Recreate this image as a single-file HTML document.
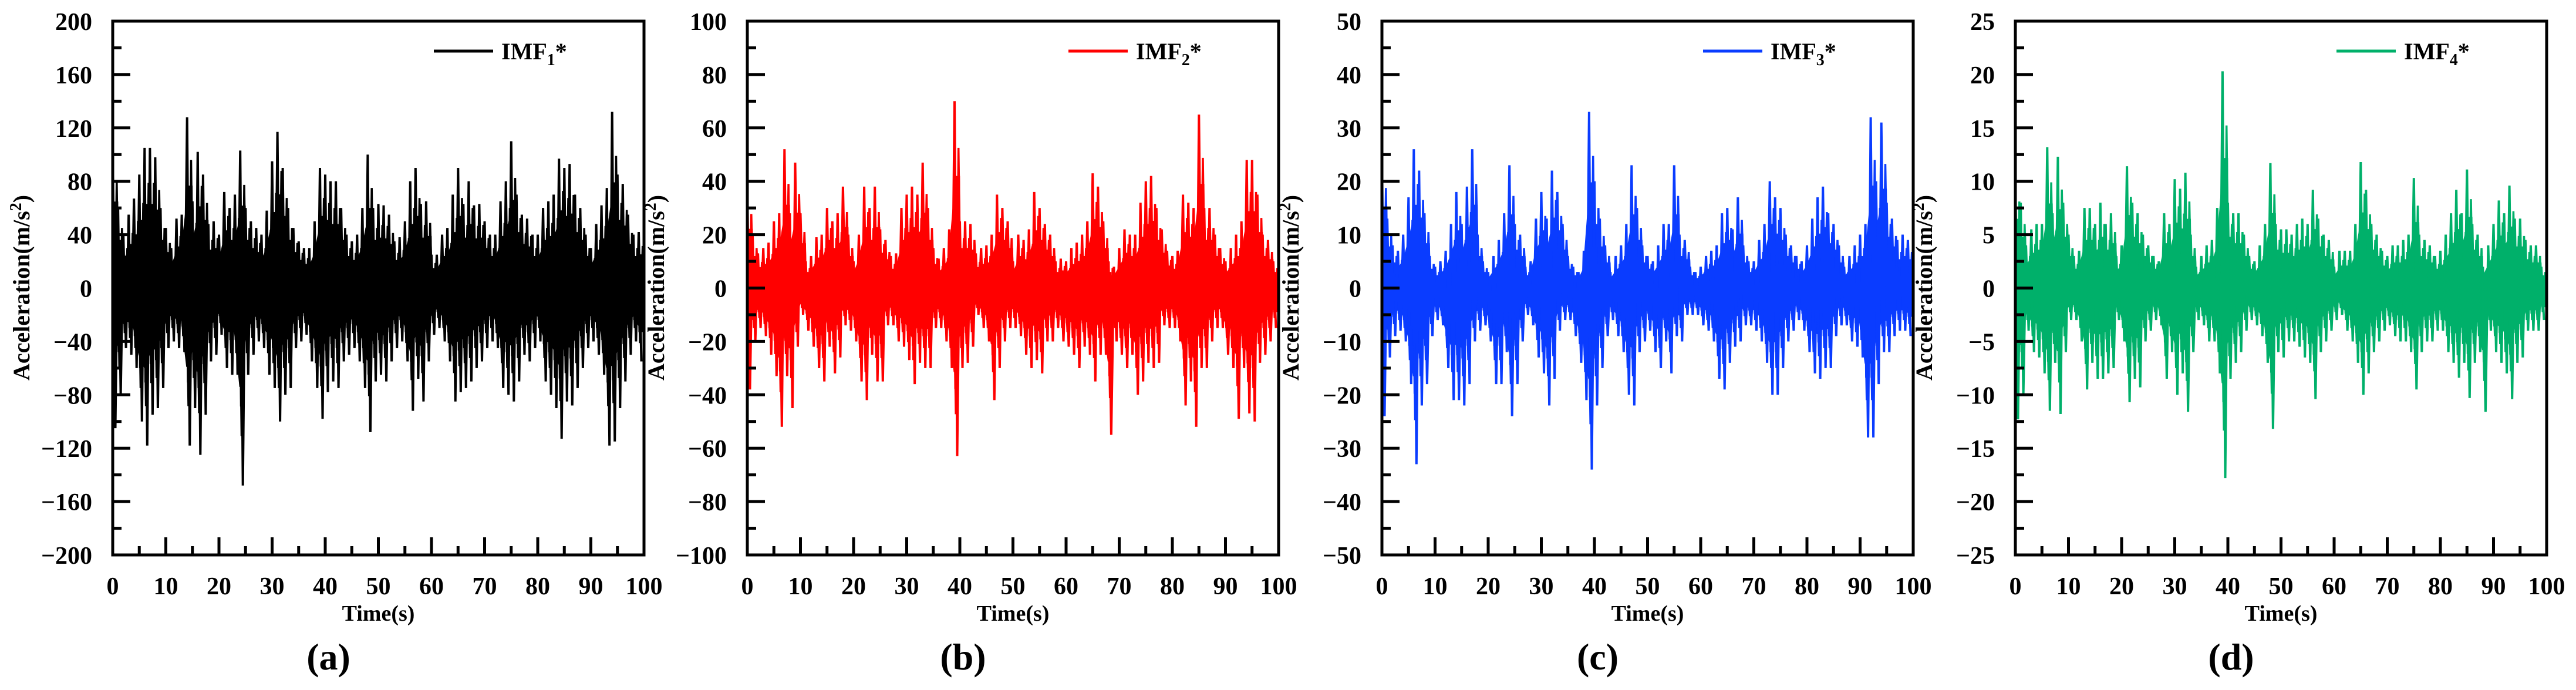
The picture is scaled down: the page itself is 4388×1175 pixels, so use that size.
<!DOCTYPE html>
<html><head><meta charset="utf-8">
<style>
html,body{margin:0;padding:0;background:#fff;}
svg{display:block;}
text{font-family:"Liberation Serif",serif;font-weight:bold;fill:#000;}
</style></head>
<body>
<svg id="fig" width="4388" height="1175" viewBox="0 0 4388 1175" xmlns="http://www.w3.org/2000/svg"></svg>
<script>
// ---- data: per-second envelope maxima/minima (t = 0..99 s) ----
const timeSeconds = Array.from({length:100}, (_, i) => i);
const imf1Max = [108,60,40,55,67,85,105,105,98,60,45,30,52,55,128,65,102,85,48,50,40,72,60,70,103,60,50,45,40,58,95,117,90,60,45,35,30,30,50,90,85,80,80,60,40,35,40,60,100,60,63,62,55,35,38,50,80,90,63,65,25,25,40,45,70,90,63,80,62,63,50,40,40,65,80,110,70,55,52,40,40,60,65,70,97,90,93,70,60,40,30,48,62,75,132,85,78,55,40,42];
const imf1Min = [-105,-80,-45,-50,-60,-100,-118,-95,-90,-75,-45,-40,-45,-48,-118,-90,-125,-95,-55,-50,-35,-60,-65,-65,-148,-65,-50,-40,-45,-65,-75,-100,-80,-75,-45,-40,-35,-55,-75,-98,-78,-70,-75,-55,-50,-45,-55,-75,-108,-70,-65,-70,-55,-45,-40,-55,-92,-68,-85,-55,-35,-30,-40,-55,-85,-78,-75,-70,-60,-55,-45,-40,-45,-75,-80,-85,-70,-50,-55,-45,-40,-70,-80,-90,-113,-85,-88,-75,-60,-45,-40,-50,-65,-118,-115,-90,-70,-50,-40,-55];
const imf2Max = [37,20,13,15,17,25,28,52,28,47,28,10,12,19,20,30,25,28,38,20,10,20,38,30,38,22,18,12,13,30,35,38,35,47,30,15,11,15,22,70,25,25,24,13,15,16,20,35,30,25,10,20,18,22,36,30,24,20,10,11,10,15,17,20,25,43,38,25,10,8,15,22,20,20,32,40,42,30,22,14,12,14,35,32,30,65,30,30,20,15,10,15,20,25,48,48,35,20,18,10];
const imf2Min = [-38,-20,-15,-18,-25,-33,-52,-33,-45,-22,-10,-16,-22,-30,-35,-22,-32,-26,-14,-16,-20,-35,-42,-25,-35,-35,-14,-14,-20,-22,-27,-36,-28,-30,-30,-15,-15,-20,-30,-63,-30,-28,-22,-10,-15,-20,-42,-30,-20,-15,-15,-18,-25,-30,-27,-32,-20,-20,-15,-20,-22,-25,-30,-22,-25,-35,-25,-25,-55,-20,-25,-30,-25,-40,-35,-28,-30,-28,-14,-15,-15,-20,-44,-35,-52,-30,-30,-20,-15,-15,-25,-30,-49,-30,-47,-50,-28,-25,-20,-15];
const imf3Max = [25,13,8,7,10,17,26,22,14,6,4,5,7,12,18,12,19,26,10,5,3,6,9,14,23,12,10,4,5,13,18,13,22,18,12,6,4,3,7,33,20,13,8,3,6,8,12,23,15,8,6,5,8,12,12,23,10,9,4,3,4,6,7,8,14,15,11,17,8,5,5,9,12,20,17,15,10,8,6,5,8,13,17,19,14,12,8,4,6,8,10,12,32,20,31,16,13,9,10,9];
const imf3Min = [-24,-13,-9,-8,-10,-18,-33,-22,-18,-9,-6,-7,-15,-21,-21,-22,-18,-10,-8,-7,-10,-18,-18,-12,-24,-18,-10,-5,-7,-13,-16,-22,-17,-8,-6,-6,-9,-14,-21,-34,-22,-15,-9,-6,-9,-12,-20,-22,-12,-10,-8,-12,-15,-10,-16,-9,-10,-5,-5,-5,-7,-8,-10,-17,-19,-14,-11,-10,-7,-7,-8,-10,-14,-20,-20,-15,-10,-8,-6,-8,-12,-16,-17,-15,-15,-9,-7,-7,-10,-11,-13,-28,-28,-18,-12,-12,-9,-8,-8,-9];
const imf4Max = [10.8,8,4,5.5,6,6,13.2,7,12.3,8,5,3,3.5,7.5,7.5,6,8,6,7,3,4,11.4,8,7,5,4,3,2.5,7,6,10.2,9.3,10.8,5,2,3,4,4.5,7.5,20.3,8,7,7,5,3,2.5,4,6,11.7,6,5.5,5.5,5,6,6.5,6,9.2,6.5,5,4.5,2,3.5,3.5,3.5,6,11.8,9.2,6,5,3.5,3,4,4,4.5,5,10.3,5,4.5,4,3,3.5,5,7,9.2,7,11.1,6,5,2,4,6,8.2,7,9.6,6.5,6.5,4.5,4,4,2];
const imf4Min = [-12.3,-10,-4,-6,-6.5,-8,-11.5,-7,-11.8,-6,-3,-3,-5,-9.5,-7,-8.5,-8.5,-8,-7.5,-3,-5,-10.7,-8.5,-9.3,-5,-4,-3,-3.5,-8.5,-6,-10,-8,-11.6,-6,-3,-3.5,-5,-5,-8,-17.8,-8.5,-7,-6,-4,-3,-3.5,-4.5,-7,-13.2,-6,-6.5,-5,-5,-5.5,-6.5,-7,-10.4,-6,-5,-4,-3,-2.5,-4,-5,-7,-10,-8,-6,-5,-4,-3.5,-4.5,-5,-5,-6,-9.5,-6,-5,-5,-4,-4,-6,-7,-8.4,-7,-10.3,-7,-6,-11.6,-4,-6,-7,-8,-10.4,-7,-6.5,-4,-4,-4,-3];
const xTicks = [0,10,20,30,40,50,60,70,80,90,100];
const yRanges = [200,100,50,25];
const yMajorSteps = [40,20,10,5];
const seriesNames = ["1","2","3","4"];
const panelLetters = ["(a)","(b)","(c)","(d)"];
const colors = ["#000000","#ff0000","#0a3cff","#00b06a"];

const NS = "http://www.w3.org/2000/svg";
const svg = document.getElementById("fig");
const lefts = [192,1273,2354,3433];
const W = 905, TOP = 36, BOT = 945;
const maxes = [imf1Max,imf2Max,imf3Max,imf4Max];
const mins = [imf1Min,imf2Min,imf3Min,imf4Min];

function mk(tag, attrs, parent){
  const e = document.createElementNS(NS, tag);
  for (const k in attrs) e.setAttribute(k, attrs[k]);
  (parent||svg).appendChild(e);
  return e;
}
function fmt(v){ return v < 0 ? "\u2212" + Math.abs(v) : String(v); }

for (let p = 0; p < 4; p++) {
  const L = lefts[p], R = L + W, R0 = yRanges[p];
  const xs = t => L + t / 100 * W;
  const ys = v => TOP + (R0 - v) / (2 * R0) * (BOT - TOP);
  const g = mk("g", {});
  
  

  const sg = mk("g", {}, g);
  
  
  const mx = maxes[p], mn = mins[p];
  let core = "";
  for (let i = 0; i < timeSeconds.length; i++) core += (i ? "L" : "M") + xs(timeSeconds[i]).toFixed(1) + "," + ys(mx[i]*0.5).toFixed(1);
  core += "L" + xs(100) + "," + ys(mx[mx.length-1]*0.5).toFixed(1);
  core += "L" + xs(100) + "," + ys(mn[mn.length-1]*0.5).toFixed(1);
  for (let i = timeSeconds.length - 1; i >= 0; i--) core += "L" + xs(timeSeconds[i]).toFixed(1) + "," + ys(mn[i]*0.5).toFixed(1);
  core += "Z";
  const cp = mk("path", {d: core, fill: colors[p], stroke: colors[p], "stroke-width": 3}, sg);
  
  
  let z1 = "", z2 = "", z3 = "";
  for (let i = 0; i < timeSeconds.length; i++) {
    const t = timeSeconds[i];
    z1 += (i ? "L" : "M") + xs(t).toFixed(1) + "," + ys(mx[i]).toFixed(1) + "L" + xs(t + 0.5).toFixed(1) + "," + ys(mn[i]).toFixed(1);
    z2 += (i ? "L" : "M") + xs(t + 0.25).toFixed(1) + "," + ys(mn[i]*0.75).toFixed(1) + "L" + xs(t + 0.75).toFixed(1) + "," + ys(mx[i]*0.75).toFixed(1);
    z3 += (i ? "L" : "M") + xs(t + 0.12).toFixed(1) + "," + ys(mn[i]*0.6).toFixed(1) + "L" + xs(t + 0.37).toFixed(1) + "," + ys(mx[i]*0.6).toFixed(1) + "L" + xs(t + 0.62).toFixed(1) + "," + ys(mn[i]*0.6).toFixed(1) + "L" + xs(t + 0.87).toFixed(1) + "," + ys(mx[i]*0.6).toFixed(1);
  }
  const zp1 = mk("path", {d: z1, fill: "none", stroke: colors[p], "stroke-width": 4}, sg);
  
  
  const zp2 = mk("path", {d: z2, fill: "none", stroke: colors[p], "stroke-width": 3.5}, sg);
  
  
  const zp3 = mk("path", {d: z3, fill: "none", stroke: colors[p], "stroke-width": 3}, sg);
  
  

  const fr = mk("rect", {x: L, y: TOP, width: W, height: BOT - TOP, fill: "none", stroke: "#000", "stroke-width": 5}, g);
  
  

  const step = yMajorSteps[p];
  for (let v = -R0; v <= R0 + 1e-9; v += step / 2) {
    const major = Math.abs(Math.round(v / step) * step - v) < 1e-9;
    const tk = mk("line", {x1: L, x2: L + (major ? 30 : 15), y1: ys(v), y2: ys(v), stroke: "#000", "stroke-width": 5}, g);
    
    
    if (major) {
      const tl = mk("text", {x: L - 35, y: ys(v) + 15, "text-anchor": "end", "font-size": 42}, g);
      tl.textContent = fmt(v);
      
      
    }
  }
  for (let i = 0; i < xTicks.length; i++) {
    const t = xTicks[i];
    if (t > 0 && t < 100) {
      const tk = mk("line", {x1: xs(t), x2: xs(t), y1: BOT, y2: BOT - 30, stroke: "#000", "stroke-width": 5}, g);
      
      
    }
    if (i < xTicks.length - 1) {
      const m = (t + xTicks[i+1]) / 2;
      const mt = mk("line", {x1: xs(m), x2: xs(m), y1: BOT, y2: BOT - 15, stroke: "#000", "stroke-width": 5}, g);
      
      
    }
    const xl = mk("text", {x: xs(t), y: 1012, "text-anchor": "middle", "font-size": 42}, g);
    xl.textContent = String(t);
    
    
  }
  const xt = mk("text", {x: L + W/2, y: 1057, "text-anchor": "middle", "font-size": 38}, g);
  xt.textContent = "Time(s)";
  
  
  const yt = mk("text", {x: 0, y: 0, "text-anchor": "middle", "font-size": 40, transform: "translate(" + (L - 142) + ",490) rotate(-90)"}, g);
  yt.innerHTML = 'Acceleration(m/s<tspan dy="-14" font-size="28">2</tspan><tspan dy="14">)</tspan>';
  
  
  const lg = mk("g", {}, g);
  
  
  mk("line", {x1: L + 547, x2: L + 648, y1: 87, y2: 87, stroke: colors[p], "stroke-width": 5}, lg);
  const lt = mk("text", {x: L + 662, y: 101, "font-size": 40}, lg);
  lt.innerHTML = 'IMF<tspan dy="10" font-size="28">' + seriesNames[p] + '</tspan><tspan dy="-10">*</tspan>';
  const pl = mk("text", {x: L + W/2 - 85, y: 1140, "text-anchor": "middle", "font-size": 64}, g);
  pl.textContent = panelLetters[p];
  
  
}
</script>
</body></html>
